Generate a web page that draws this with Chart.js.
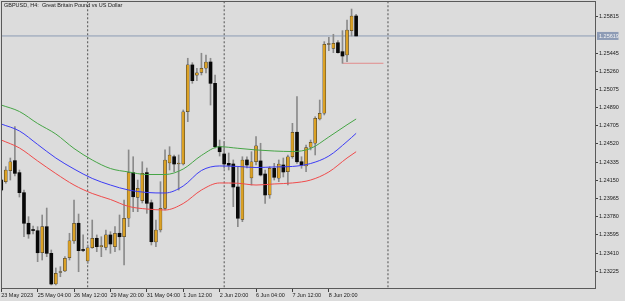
<!DOCTYPE html>
<html>
<head>
<meta charset="utf-8">
<script src="https://cdn.jsdelivr.net/npm/chart.js@4.4.1/dist/chart.umd.min.js"></script>
<style>
html,body{margin:0;padding:0;background:#dcdcdc;overflow:hidden}
canvas{display:block}
</style>
</head>
<body>
<canvas id="c" width="625" height="301"></canvas>
<script>
// ---- DATA (GBPUSD H4, bar 0 = 23 May 2023 20:00) ----
const chartTitle = "GBPUSD, H4:  Great Britain Pound vs US Dollar";

const open = [
1.24153,1.24136,1.24248,1.24350,1.24228,1.24024,1.23713,1.23644,1.23637,1.23413,
1.23678,1.23407,1.23095,1.23212,1.23227,1.23363,1.23533,1.23713,1.23441,1.23329,
1.23464,1.23560,1.23475,1.23468,1.23594,1.23475,1.23611,1.23576,1.23764,1.24228,
1.23977,1.23943,1.24228,1.23922,1.23522,1.23644,1.23865,1.24326,1.24390,1.24316,
1.24316,1.24848,1.25324,1.25219,1.25249,1.25290,1.25354,1.25137,1.24492,1.24418,
1.24323,1.24316,1.24082,1.23753,1.24357,1.24174,1.24339,1.24347,1.24214,1.24001,
1.24272,1.24171,1.24306,1.24238,1.24390,1.24639,1.24339,1.24296,1.24486,1.24527,
1.24774,1.24832,1.25532,1.25493,1.25550,1.25459,1.25425,1.25673,1.25822
];
const high = [
1.24184,1.24289,1.24377,1.24696,1.24255,1.24051,1.23780,1.23685,1.23678,1.23797,
1.23868,1.23441,1.23258,1.23271,1.23373,1.23611,1.23950,1.23807,1.23594,1.23492,
1.23746,1.23594,1.23576,1.23644,1.23627,1.23678,1.23797,1.23950,1.24459,1.24390,
1.24153,1.24339,1.24275,1.23950,1.23746,1.24136,1.24459,1.24492,1.24408,1.24408,
1.24866,1.25392,1.25347,1.25290,1.25443,1.25425,1.25392,1.25222,1.24560,1.24543,
1.24428,1.24357,1.24289,1.24390,1.24390,1.24441,1.24594,1.24527,1.24255,1.24289,
1.24323,1.24357,1.24377,1.24408,1.24730,1.25001,1.24390,1.24509,1.24560,1.24797,
1.24967,1.25561,1.25605,1.25636,1.25571,1.25673,1.25781,1.25893,1.25839
];
const low = [
1.24031,1.24120,1.24153,1.24194,1.23980,1.23576,1.23560,1.23604,1.23322,1.23339,
1.23373,1.23085,1.23085,1.23169,1.23220,1.23339,1.23509,1.23220,1.23424,1.23306,
1.23458,1.23424,1.23373,1.23441,1.23407,1.23424,1.23441,1.23288,1.23678,1.23831,
1.23831,1.23919,1.23814,1.23492,1.23475,1.23624,1.23848,1.24255,1.24238,1.24051,
1.24306,1.24747,1.25137,1.25164,1.25222,1.25242,1.24916,1.24476,1.24397,1.24272,
1.24255,1.23882,1.23678,1.23729,1.24275,1.24102,1.24306,1.24194,1.23916,1.23967,
1.24153,1.24136,1.24184,1.24102,1.24374,1.24323,1.24272,1.24238,1.24459,1.24408,
1.24764,1.24815,1.25469,1.25449,1.25443,1.25341,1.25357,1.25619,1.25619
];
const close = [
1.24051,1.24255,1.24339,1.24221,1.24024,1.23713,1.23604,1.23639,1.23413,1.23678,
1.23407,1.23095,1.23204,1.23220,1.23356,1.23533,1.23713,1.23434,1.23436,1.23464,
1.23560,1.23475,1.23480,1.23594,1.23502,1.23611,1.23576,1.23764,1.24228,1.23983,
1.24069,1.24221,1.23916,1.23525,1.23644,1.23865,1.24357,1.24408,1.24316,1.24321,
1.24848,1.25324,1.25164,1.25245,1.25290,1.25354,1.25137,1.24492,1.24441,1.24316,
1.24303,1.24082,1.23764,1.24357,1.24306,1.24339,1.24502,1.24204,1.24001,1.24272,
1.24181,1.24316,1.24235,1.24390,1.24639,1.24339,1.24306,1.24482,1.24537,1.24781,
1.24832,1.25534,1.25537,1.25544,1.25449,1.25415,1.25680,1.25822,1.25619
];

// moving-average lines, read at these bar indices
const maIdx   = [0,4,8,12,16,20,24,28,32,36,40,44,48,52,56,60,64,68,72,76,78];
const maGreen = [1.24916,1.24850,1.24728,1.24621,1.24474,1.24357,1.24270,1.24235,1.24209,1.24209,1.24265,1.24403,1.24492,1.24476,1.24459,1.24448,1.24443,1.24474,1.24591,1.24715,1.24774];
const maBlue  = [1.24723,1.24652,1.24515,1.24377,1.24265,1.24169,1.24102,1.24051,1.24026,1.24021,1.24092,1.24250,1.24296,1.24291,1.24280,1.24286,1.24291,1.24321,1.24397,1.24545,1.24628];
const maRed   = [1.24560,1.24479,1.24347,1.24219,1.24102,1.24016,1.23955,1.23884,1.23858,1.23848,1.23914,1.24051,1.24123,1.24120,1.24102,1.24113,1.24123,1.24153,1.24235,1.24377,1.24441];

// axis labels
const yTicks = [1.25815,1.25445,1.25260,1.25075,1.24890,1.24705,1.24520,1.24335,1.24150,1.23965,1.23780,1.23595,1.23410,1.23225];
const xLabelIdx  = [0,8,16,24,32,40,48,56,64,72];
const xLabelText = ["23 May 2023","25 May 04:00","26 May 12:00","29 May 20:00","31 May 04:00","1 Jun 12:00","2 Jun 20:00","6 Jun 04:00","7 Jun 12:00","8 Jun 20:00"];

// other levels
const lastPrice = 1.25619;
const separatorIdx = [19, 49, 85];
const redLevel = 1.25341;
const redLevelFrom = 75, redLevelTo = 84;

// axis range
const xMin = -0.05, xMax = 130.5;
const yMin = 1.23044, yMax = 1.259645;

// ---- BUILD ----
const BG = '#dcdcdc';
const BULL = '#dba125';
const BEAR = '#080808';
const FONT = 'Liberation Sans';
Chart.defaults.font.family = FONT;
Chart.defaults.font.size = 5.5;
Chart.defaults.color = '#1a1a1a';

const bars = open.map((_, i) => i);
const wickData = bars.map(i => ({x: i, y: [low[i], high[i]]}));
const bodyData = bars.map(i => ({x: i, y: [open[i], close[i]]}));
const bull = i => close[i] >= open[i];
const maLine = (vals, color) => ({
  type: 'line', data: maIdx.map((x, k) => ({x, y: vals[k]})),
  borderColor: color, borderWidth: 1, pointRadius: 0, fill: false,
  tension: 0.4, cubicInterpolationMode: 'monotone', order: -1
});

const datasets = [
  maLine(maGreen, 'rgb(70,165,70)'),
  maLine(maBlue, 'rgb(60,60,245)'),
  maLine(maRed, 'rgb(240,75,75)'),
  {
    type: 'bar', data: wickData, barThickness: 1, grouped: false,
    backgroundColor: '#8a8a8a', borderWidth: 0, order: 2
  },
  {
    type: 'bar', data: bodyData, barThickness: 3, grouped: false, minBarLength: 1,
    backgroundColor: c => bull(c.dataIndex) ? BULL : BEAR,
    borderColor: '#2a2a2a',
    borderWidth: c => bull(c.dataIndex) ? 0.5 : 0,
    borderSkipped: false,
    order: 1
  },
  {
    type: 'line', data: [{x: xMin - 2, y: lastPrice}, {x: xMax + 2, y: lastPrice}],
    borderColor: 'rgb(140,155,180)', borderWidth: 1, pointRadius: 0, order: 3
  },
  {
    type: 'line', data: [{x: redLevelFrom, y: redLevel}, {x: redLevelTo, y: redLevel}],
    borderColor: 'rgb(225,140,140)', borderWidth: 1, pointRadius: 0, order: 3
  }
];
separatorIdx.forEach(s => datasets.push({
  type: 'line', data: [{x: s, y: yMin - 0.01}, {x: s, y: yMax + 0.01}],
  borderColor: '#505050', borderWidth: 1, borderDash: [2, 2], pointRadius: 0, order: 5
}));

const decor = {
  id: 'decor',
  beforeDraw(chart) {
    const ctx = chart.ctx;
    ctx.save();
    ctx.fillStyle = BG;
    ctx.fillRect(0, 0, chart.width, chart.height);
    ctx.restore();
  },
  afterDraw(chart) {
    const ctx = chart.ctx, a = chart.chartArea, y = chart.scales.y;
    ctx.save();
    ctx.strokeStyle = '#5a5a5a';
    ctx.lineWidth = 1;
    ctx.strokeRect(Math.round(a.left) + 0.5, Math.round(a.top) - 0.5, Math.round(a.right - a.left), Math.round(a.bottom - a.top));
    ctx.font = '5.5px "' + FONT + '"';
    ctx.fillStyle = '#1a1a1a';
    ctx.textBaseline = 'top';
    ctx.textAlign = 'left';
    ctx.fillText(chartTitle, 4, 3);
    const yp = y.getPixelForValue(lastPrice);
    ctx.fillStyle = 'rgb(141,155,181)';
    ctx.fillRect(a.right + 2, yp - 4, 21.5, 8);
    ctx.fillStyle = '#f4f4f4';
    ctx.textBaseline = 'middle';
    ctx.fillText(lastPrice.toFixed(5), a.right + 4, yp + 0.3);
    ctx.restore();
  }
};

new Chart(document.getElementById('c'), {
  type: 'bar',
  data: { datasets },
  options: {
    responsive: false,
    animation: false,
    devicePixelRatio: 1,
    events: [],
    layout: { padding: { left: 1, top: 2, right: 0, bottom: 0 } },
    plugins: { legend: { display: false }, tooltip: { enabled: false }, title: { display: false } },
    scales: {
      x: {
        type: 'linear', position: 'bottom', min: xMin, max: xMax, offset: false,
        grid: { display: true, drawOnChartArea: false, drawTicks: true, tickLength: 3, offset: false, color: '#404040' },
        border: { display: false },
        ticks: {
          autoSkip: false, maxRotation: 0, minRotation: 0, align: 'start', padding: 0,
          callback: v => { const k = xLabelIdx.indexOf(v); return k >= 0 ? xLabelText[k] : ''; }
        },
        afterBuildTicks: s => { s.ticks = xLabelIdx.map(v => ({ value: v })); },
        afterFit: s => { s.height = 12; s.paddingLeft = 0; s.paddingRight = 0; }
      },
      y: {
        type: 'linear', position: 'right', min: yMin, max: yMax, beginAtZero: false,
        grid: { display: true, drawOnChartArea: false, drawTicks: true, tickLength: 3, color: '#404040' },
        border: { display: false },
        ticks: { autoSkip: false, padding: 1, callback: v => Number(v).toFixed(5) },
        afterBuildTicks: s => { s.ticks = yTicks.map(v => ({ value: v })); },
        afterFit: s => { s.width = 30; s.paddingTop = 0; s.paddingBottom = 0; }
      }
    }
  },
  plugins: [decor]
});
</script>
</body>
</html>
